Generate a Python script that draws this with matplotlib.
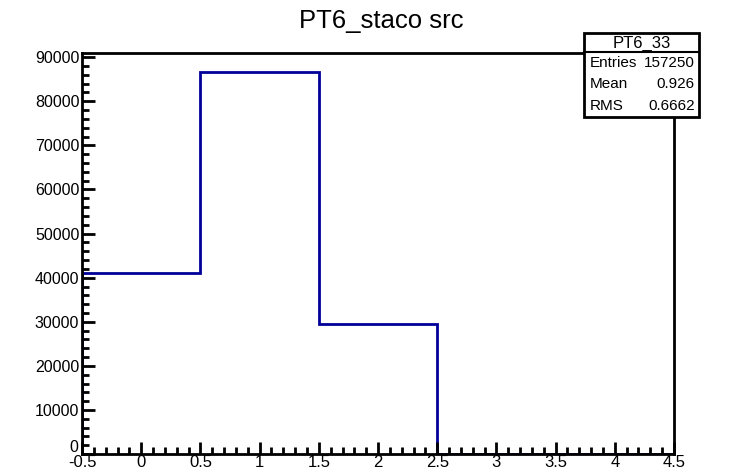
import numpy as np
import matplotlib.pyplot as plt
from matplotlib.ticker import MultipleLocator, FuncFormatter

plt.rcParams['font.family'] = ['Liberation Sans', 'DejaVu Sans']

# histogram contents (ROOT TH1, 5 bins from -0.5 to 4.5)
bin_edges = [-0.5, 0.5, 1.5, 2.5, 3.5, 4.5]
counts = [41146, 86595, 29509, 0, 0]
hist_name = 'PT6_33'
title = 'PT6_staco src'
stats_labels = ['Entries', 'Mean', 'RMS']
stats_values = ['157250', '0.926', '0.6662']
xtick_labels = ['-0.5', '0', '0.5', '1', '1.5', '2', '2.5', '3', '3.5', '4', '4.5']

fig = plt.figure(figsize=(7.46, 4.74), dpi=100)
ax = fig.add_axes([0.110, 0.042, 0.7935, 0.846])

ax.stairs(counts, bin_edges, color='#000099', linewidth=2)

ax.set_xlim(-0.5, 4.5)
ax.set_ylim(0, max(counts) * 1.05)
ax.xaxis.set_major_locator(MultipleLocator(0.5))
ax.xaxis.set_minor_locator(MultipleLocator(0.1))
ax.yaxis.set_major_locator(MultipleLocator(10000))
ax.yaxis.set_minor_locator(MultipleLocator(2000))
# the "0" on y is drawn by hand below, lifted a bit so it clears "-0.5"
ax.yaxis.set_major_formatter(FuncFormatter(lambda v, p: '' if v == 0 else '%d' % v))
ax.tick_params(which='both', direction='in', top=False, right=False, width=2)
ax.tick_params(which='major', length=9)
ax.tick_params(which='minor', length=5)
ax.tick_params(axis='x', labelsize=12, pad=1)
ax.tick_params(axis='y', labelsize=11.5, pad=2)
ax.set_xticks(np.arange(-0.5, 4.51, 0.5))
ax.set_xticklabels(xtick_labels)
ax.annotate('0', xy=(0, 0), xycoords='axes fraction', xytext=(-3, 4.5),
            textcoords='offset points', ha='right', va='center', fontsize=11.5)
for s in ax.spines.values():
    s.set_linewidth(2)

fig.text(0.511, 0.955, title, ha='center', va='center', fontsize=18.5)

# stats box
bx0, bx1 = 584 / 746, 699 / 746
by_top, by_bot = 1 - 33 / 474, 1 - 117 / 474
by_sep = 1 - 52 / 474
box = plt.Rectangle((bx0, by_bot), bx1 - bx0, by_top - by_bot, transform=fig.transFigure,
                    facecolor='white', edgecolor='black', linewidth=2, zorder=5)
fig.add_artist(box)
fig.add_artist(plt.Line2D([bx0, bx1], [by_sep, by_sep], transform=fig.transFigure,
                          color='black', linewidth=1.5, zorder=6))
fig.text((bx0 + bx1) / 2, (by_top + by_sep) / 2 - 0.002, hist_name, ha='center', va='center',
         fontsize=12, zorder=7)
row_h = (by_sep - by_bot) / 3
for k, (lab, val) in enumerate(zip(stats_labels, stats_values)):
    yc = by_sep - row_h * (k + 0.5)
    fig.text(bx0 + 0.008, yc, lab, ha='left', va='center', fontsize=11, zorder=7)
    fig.text(bx1 - 0.006, yc, val, ha='right', va='center', fontsize=11, zorder=7)

fig.savefig('out.png', dpi=100)
